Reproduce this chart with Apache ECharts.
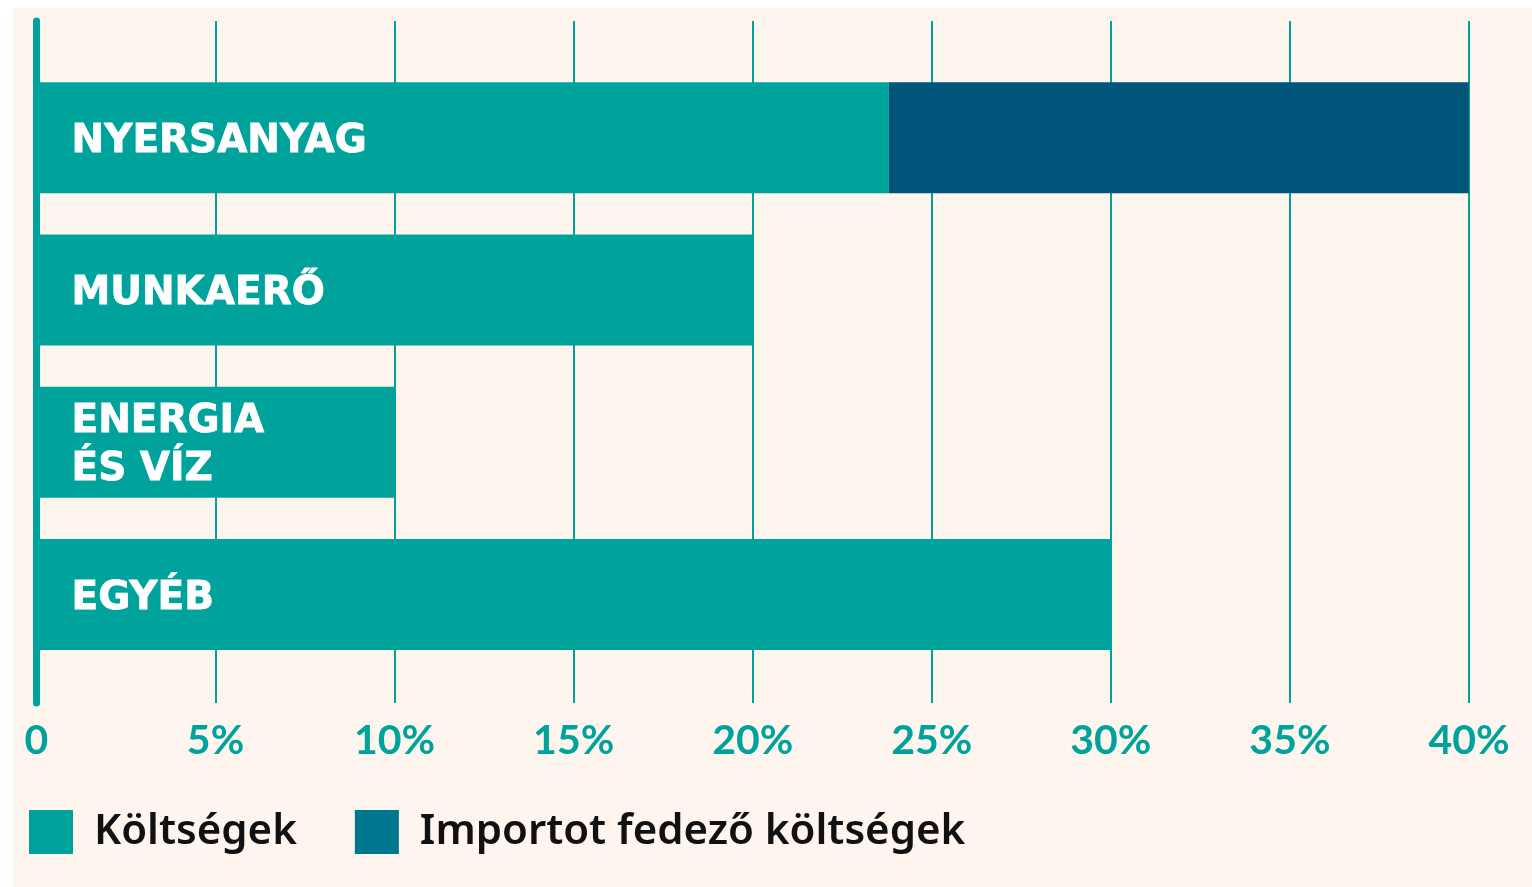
<!DOCTYPE html>
<html>
<head>
<meta charset="utf-8">
<script src="https://cdn.jsdelivr.net/npm/echarts@6/dist/echarts.min.js"></script>
<style>
  html, body { margin: 0; padding: 0; background: #ffffff; }
  #chart { position: absolute; left: 13px; top: 8px; width: 1519px; height: 879px; }
</style>
</head>
<body>
<div id="chart"></div>
<script>
// adatok
const categories = ['NYERSANYAG', 'MUNKAERŐ', 'ENERGIA\nÉS VÍZ', 'EGYÉB'];
const koltsegek = [23.8, 20, 10, 30];
const importKoltsegek = [16.2, null, null, null];
const tickLabels = ['0', '5%', '10%', '15%', '20%', '25%', '30%', '35%', '40%'];
const seriesNames = ['Költségek', 'Importot fedező költségek'];

const teal = '#00a39c';
const darkBlue = '#00557a';

let chart = echarts.init(document.getElementById('chart'));
chart.setOption({
    backgroundColor: '#fdf5ee',
    animation: false,
    grid: [
        { left: 23.5, right: 63, top: 13, bottom: 184 },   // racs + tengely
        { left: 23.5, right: 63, top: 53.5, bottom: 216.5 } // oszlopok
    ],
    xAxis: [
        {
            gridIndex: 0, type: 'value', min: 0, max: 40, interval: 5,
            axisLine: { show: false }, axisTick: { show: false },
            splitLine: { lineStyle: { color: teal, width: 2 } },
            axisLabel: {
                margin: 17,
                color: teal, fontFamily: 'Lato', fontWeight: 'bold', fontSize: 41,
                formatter: (v) => tickLabels[Math.round(v / 5)]
            }
        },
        { gridIndex: 1, type: 'value', min: 0, max: 40, show: false }
    ],
    yAxis: [
        {
            gridIndex: 0, type: 'value', min: 0, max: 1,
            axisLine: { show: true, lineStyle: { color: teal, width: 7 } },
            axisTick: { show: false }, axisLabel: { show: false }, splitLine: { show: false }
        },
        { gridIndex: 1, type: 'category', data: categories, inverse: true, show: false }
    ],
    legend: {
        left: 11, top: 797,
        itemWidth: 44, itemHeight: 44, itemGap: 58,
        icon: 'rect',
        textStyle: {
            color: '#111', fontFamily: 'Noto Sans', fontWeight: 600, fontSize: 42,
            padding: [5, 0, 0, 16]
        },
        data: [
            { name: seriesNames[0], itemStyle: { color: teal } },
            { name: seriesNames[1], itemStyle: { color: '#00778f' } }
        ]
    },
    series: [
        {
            name: seriesNames[0], type: 'bar', stack: 'total',
            xAxisIndex: 1, yAxisIndex: 1,
            barWidth: 111,
            itemStyle: { color: teal },
            data: koltsegek,
            label: {
                show: true, position: 'insideLeft', distance: 35, offset: [0, 4],
                color: '#ffffff', fontFamily: 'DejaVu Sans', fontWeight: 'bold', fontSize: 39,
                lineHeight: 48, textBorderColor: '#ffffff', textBorderWidth: 0.8,
                formatter: (p) => p.name
            }
        },
        {
            name: seriesNames[1], type: 'bar', stack: 'total',
            xAxisIndex: 1, yAxisIndex: 1,
            barWidth: 111,
            itemStyle: { color: darkBlue },
            data: importKoltsegek
        }
    ]
});
window.addEventListener('resize', function() {
    chart.resize();
});
</script>
</body>
</html>
